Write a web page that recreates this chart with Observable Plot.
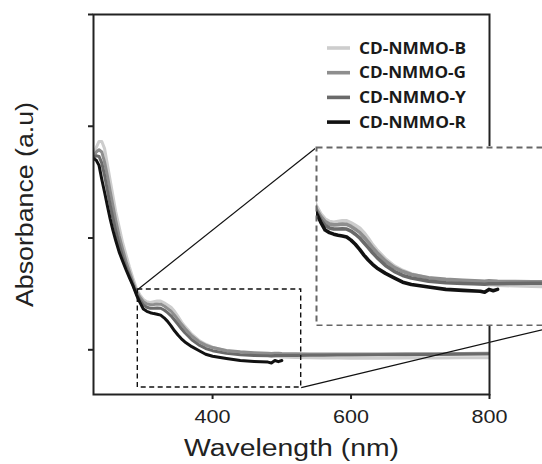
<!DOCTYPE html>
<html>
<head>
<meta charset="utf-8">
<script src="https://cdn.jsdelivr.net/npm/d3@7"></script>
<script src="https://cdn.jsdelivr.net/npm/@observablehq/plot@0.6"></script>
<style>
  html, body { margin: 0; padding: 0; background: #fff; overflow: hidden; }
  #wrap { position: relative; width: 542px; height: 464px; overflow: hidden; }
  #inset { position: absolute; background: #fff; line-height: 0; }
  #inset svg { max-width: none !important; display: block; }
  #legend { position: absolute; }
</style>
</head>
<body>
<div id="wrap"></div>
<script>
// ---- data ----
const wavelength = [228, 232, 236, 240, 244, 248, 252, 256, 260, 265, 270, 275, 280, 285, 290, 295,
  300, 305, 310, 315, 320, 325, 330, 335, 340, 345, 350, 355, 360, 370, 380, 390, 400, 420, 440,
  460, 480, 485, 490, 495, 500, 520, 540, 560, 580, 600, 640, 680, 720, 760, 800];

const absB = [1.375, 1.405, 1.432, 1.432, 1.400, 1.330, 1.260, 1.190, 1.120, 1.050, 0.980, 0.925, 0.870, 0.820, 0.775, 0.745,
  0.725, 0.715, 0.712, 0.715, 0.718, 0.718, 0.710, 0.700, 0.690, 0.672, 0.650, 0.625, 0.605, 0.570, 0.543, 0.525, 0.512, 0.495, 0.487,
  0.480, 0.474, 0.472, 0.470, 0.470, 0.468, 0.466, 0.464, 0.463, 0.463, 0.462, 0.462, 0.463, 0.463, 0.464, 0.464];

const absG = [1.365, 1.385, 1.395, 1.385, 1.340, 1.280, 1.210, 1.145, 1.080, 1.010, 0.950, 0.895, 0.848, 0.803, 0.762, 0.735,
  0.715, 0.705, 0.702, 0.703, 0.705, 0.704, 0.696, 0.685, 0.673, 0.655, 0.635, 0.614, 0.595, 0.562, 0.537, 0.521, 0.510, 0.497, 0.491,
  0.487, 0.484, 0.483, 0.485, 0.484, 0.483, 0.482, 0.481, 0.481, 0.481, 0.481, 0.481, 0.482, 0.482, 0.483, 0.485];

const absY = [1.360, 1.368, 1.365, 1.335, 1.280, 1.215, 1.150, 1.090, 1.035, 0.972, 0.918, 0.870, 0.830, 0.790, 0.752, 0.722,
  0.700, 0.690, 0.686, 0.686, 0.687, 0.686, 0.678, 0.666, 0.652, 0.633, 0.614, 0.594, 0.576, 0.545, 0.522, 0.506, 0.496, 0.484, 0.478,
  0.475, 0.473, 0.472, 0.474, 0.474, 0.474, 0.475, 0.476, 0.476, 0.477, 0.477, 0.478, 0.478, 0.479, 0.480, 0.481];

const absR = [1.356, 1.348, 1.325, 1.262, 1.205, 1.145, 1.087, 1.035, 0.990, 0.938, 0.897, 0.858, 0.822, 0.787, 0.746, 0.712,
  0.682, 0.672, 0.666, 0.662, 0.659, 0.655, 0.643, 0.627, 0.607, 0.585, 0.566, 0.549, 0.535, 0.514, 0.497, 0.480, 0.471, 0.461, 0.452,
  0.448, 0.445, 0.441, 0.452, 0.447, 0.452, null, null, null, null, null, null, null, null, null, null];

const seriesNames = ["CD-NMMO-B", "CD-NMMO-G", "CD-NMMO-Y", "CD-NMMO-R"];
const seriesColors = ["#cdcdcd", "#8e8e8e", "#6a6a6a", "#111111"];
const seriesValues = [absB, absG, absY, absR];

const xTicks = [400, 600, 800];
const yTicks = [0.5, 1.0, 1.5, 2.0];
const xDomain = [228, 800];
const yDomain = [0.3, 2.0];

// zoomed region (data units) and where its magnified copy sits (main-plot data units)
const zoomX = [292, 528];
const zoomY = [0.331, 0.770];
const insetAtX = [550, 902];
const insetAtY = [0.609, 1.405];
// inset's own scales
const insetXDomain = [290, 573];
const insetYDomain = [0.312, 1.002];

(function draw() {
  const rows = [];
  seriesNames.forEach((s, j) => {
    wavelength.forEach((w, i) => {
      const v = seriesValues[j][i];
      if (v != null) rows.push({wl: w, abs: v, series: s});
    });
  });

  const color = {domain: seriesNames, range: seriesColors};
  const font = "'Liberation Sans', Arial, Helvetica, sans-serif";

  const main = Plot.plot({
    width: 542, height: 464,
    marginLeft: 93, marginRight: 53, marginTop: 14, marginBottom: 70,
    style: {fontFamily: font, background: "#fff", color: "#222"},
    x: {domain: xDomain},
    y: {domain: yDomain},
    color,
    marks: [
      Plot.line(rows, {x: "wl", y: "abs", z: "series", stroke: "series", strokeWidth: 3, clip: true}),
      Plot.rect([{x1: zoomX[0], x2: zoomX[1], y1: zoomY[0], y2: zoomY[1]}],
        {x1: "x1", x2: "x2", y1: "y1", y2: "y2", fill: "none", stroke: "#111", strokeWidth: 1.4, strokeDasharray: "5,3.5"}),
      Plot.link([
        {x1: zoomX[0], y1: zoomY[1], x2: insetAtX[0], y2: insetAtY[1]},
        {x1: zoomX[1], y1: zoomY[0], x2: insetAtX[1], y2: insetAtY[0]}
      ], {x1: "x1", y1: "y1", x2: "x2", y2: "y2", stroke: "#111", strokeWidth: 1.2}),
      Plot.frame({stroke: "#222", strokeWidth: 2}),
      Plot.axisX({ticks: xTicks, tickSize: 5, tickPadding: 10, fontSize: 18.5, label: null, strokeWidth: 2}),
      Plot.axisY({ticks: yTicks, tickSize: 5, tickFormat: () => "", label: null, strokeWidth: 2}),
      Plot.text(["Wavelength (nm)"], {frameAnchor: "bottom", lineAnchor: "middle", textAnchor: "middle", dy: 54, fontSize: 23, fill: "#222"}),
      Plot.text(["Absorbance (a.u)"], {frameAnchor: "left", lineAnchor: "middle", textAnchor: "middle", dx: -68, rotate: -90, fontSize: 23, fill: "#222"})
    ]
  });

  const wrap = document.getElementById("wrap");
  wrap.appendChild(main);

  const svgMain = d3.select(main);
  svgMain.selectAll('[aria-label="x-axis tick label"] text')
    .attr("textLength", 36).attr("lengthAdjust", "spacingAndGlyphs");
  svgMain.selectAll("text").each(function() {
    const t = this.textContent;
    if (t === "Wavelength (nm)") d3.select(this).attr("textLength", 215).attr("lengthAdjust", "spacingAndGlyphs");
    if (t === "Absorbance (a.u)") d3.select(this).attr("textLength", 205).attr("lengthAdjust", "spacingAndGlyphs");
  });

  // ---- inset (magnified copy) ----
  const xs = main.scale("x"), ys = main.scale("y");
  const iLeft = xs.apply(insetAtX[0]), iRight = xs.apply(insetAtX[1]);
  const iTop = ys.apply(insetAtY[1]), iBottom = ys.apply(insetAtY[0]);
  const iW = Math.round(iRight - iLeft) + 2, iH = Math.round(iBottom - iTop) + 2;

  const inset = Plot.plot({
    width: iW, height: iH,
    marginTop: 1, marginRight: 1, marginBottom: 1, marginLeft: 1,
    style: {background: "#fff", maxWidth: "none"},
    x: {domain: insetXDomain, axis: null},
    y: {domain: insetYDomain, axis: null},
    color,
    marks: [
      Plot.line(rows, {x: "wl", y: "abs", z: "series", stroke: "series", strokeWidth: 3.6, clip: true}),
      Plot.frame({stroke: "#666", strokeWidth: 2, strokeDasharray: "6,4"})
    ]
  });
  const insetDiv = document.createElement("div");
  insetDiv.id = "inset";
  insetDiv.style.left = (iLeft - 1) + "px";
  insetDiv.style.top = (iTop - 1) + "px";
  insetDiv.style.width = iW + "px";
  insetDiv.style.height = iH + "px";
  insetDiv.appendChild(inset);
  wrap.appendChild(insetDiv);

  // ---- legend ----
  const legendTop = 35, legendStep = 24.7;
  const lg = d3.create("svg").attr("id", "legend").attr("width", 170).attr("height", 110)
    .style("left", "320px").style("top", legendTop + "px");
  const items = lg.selectAll("g").data(seriesNames).join("g")
    .attr("transform", (d, i) => `translate(0,${13 + i * legendStep})`);
  items.append("line").attr("x1", 7).attr("x2", 30).attr("y1", 0).attr("y2", 0)
    .attr("stroke", (d, i) => seriesColors[i]).attr("stroke-width", 3.6);
  items.append("text").attr("x", 39).attr("y", 0).attr("dy", "0.36em")
    .attr("font-family", "'Open Sans', 'Noto Sans', sans-serif").attr("font-weight", 700)
    .attr("font-size", 15.5).attr("fill", "#1a1a1a")
    .attr("textLength", 107).attr("lengthAdjust", "spacingAndGlyphs")
    .text(d => d);
  wrap.appendChild(lg.node());
})();
</script>
</body>
</html>
